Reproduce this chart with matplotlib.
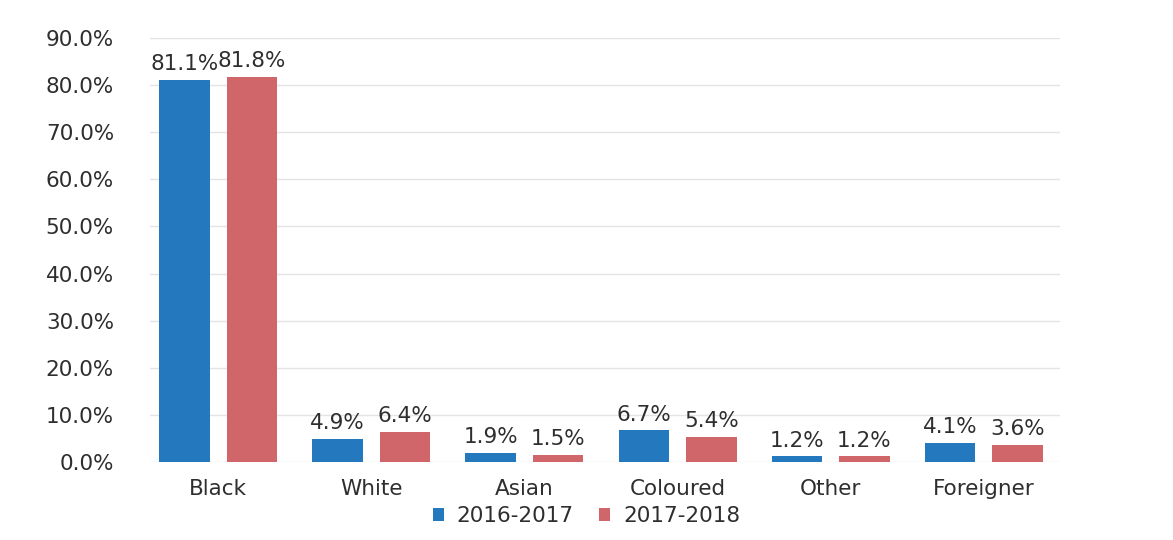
import matplotlib.pyplot as plt
import numpy as np

categories = ["Black", "White", "Asian", "Coloured", "Other", "Foreigner"]
y2016 = [81.1, 4.9, 1.9, 6.7, 1.2, 4.1]
y2017 = [81.8, 6.4, 1.5, 5.4, 1.2, 3.6]
yticks = [0, 10, 20, 30, 40, 50, 60, 70, 80, 90]

blue = "#2479be"
red = "#d1666a"
txt = "#2e2e2e"
fs = 15.5

plt.rcParams['font.family'] = ['DejaVu Sans']

fig = plt.figure(figsize=(11.73, 5.4), dpi=100)
ax = fig.add_axes([0.128, 0.1444, 0.776, 0.7852])

x = np.arange(len(categories))
w = 0.33
off = 0.22
b1 = ax.bar(x - off, y2016, w, color=blue, label="2016-2017", zorder=3)
b2 = ax.bar(x + off, y2017, w, color=red, label="2017-2018", zorder=3)

for bars, vals in ((b1, y2016), (b2, y2017)):
    for b, v in zip(bars, vals):
        ax.text(b.get_x() + b.get_width() / 2, v + 1.2, f"{v:.1f}%",
                ha="center", va="bottom", fontsize=fs, color=txt)

ax.set_ylim(0, 90)
ax.set_xlim(-0.444, 5.5)
ax.set_yticks(yticks)
ax.set_yticklabels([f"{t:.1f}%" for t in yticks])
ax.set_xticks(x)
ax.set_xticklabels(categories)
ax.tick_params(axis="both", length=0, labelsize=fs, labelcolor=txt)
ax.tick_params(axis="x", pad=12)
ax.tick_params(axis="y", pad=26)
ax.grid(axis="y", color="#e4e4e4", linewidth=1, zorder=0)
for s in ax.spines.values():
    s.set_visible(False)

fig.legend(loc="lower center", bbox_to_anchor=(0.5, -0.01), ncol=2, frameon=False,
           fontsize=fs, handlelength=0.5, handleheight=0.5, handletextpad=0.6,
           columnspacing=1.2, labelcolor=txt)

fig.savefig("out.png", dpi=100)
